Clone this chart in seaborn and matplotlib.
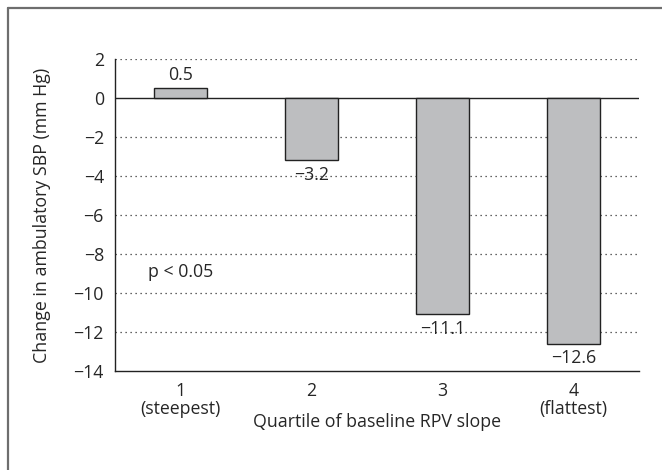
import matplotlib
matplotlib.use('Agg')
import matplotlib.pyplot as plt
from matplotlib.lines import Line2D
import seaborn as sns
import pandas as pd

# data
quartiles = ['1\n(steepest)', '2', '3', '4\n(flattest)']
change_sbp = [0.5, -3.2, -11.1, -12.6]
value_labels = ['0.5', '\u22123.2', '\u221211.1', '\u221212.6']
y_ticks = [2, 0, -2, -4, -6, -8, -10, -12, -14]

df = pd.DataFrame({'quartile': quartiles, 'change': change_sbp})

sns.set_style('white')
plt.rcParams['font.family'] = ['Open Sans', 'DejaVu Sans']
fs = 12.8
plt.rcParams['font.size'] = fs

fig = plt.figure(figsize=(6.62, 4.70), dpi=100)
ax = fig.add_axes([115/662, 1-371/470, (639-115)/662, (371-59)/470])

sns.barplot(data=df, x='quartile', y='change', color='#bdbec0', width=0.4,
            edgecolor='#222222', linewidth=1.0, saturation=1, ax=ax, zorder=3)

ax.set_xlim(-0.5, 3.5)
ax.set_ylim(-14, 2)
ax.set_yticks(y_ticks)

# dotted grid + solid zero line
for y in y_ticks:
    if y == 0:
        ax.axhline(0, color='#222222', lw=1.0, zorder=2)
    elif y != -14:
        ax.axhline(y, color='#333333', lw=0.9, ls=(0, (1, 3)), zorder=1)

for i, (v, lab) in enumerate(zip(change_sbp, value_labels)):
    if v >= 0:
        ax.annotate(lab, (i, v), xytext=(0, 3), textcoords='offset points',
                    ha='center', va='bottom', fontsize=fs)
    else:
        ax.annotate(lab, (i, v), xytext=(0, -4), textcoords='offset points',
                    ha='center', va='top', fontsize=fs)

ax.text(0, -8.9, 'p < 0.05', ha='center', va='center', fontsize=fs)

for s in ['top', 'right']:
    ax.spines[s].set_visible(False)
ax.spines['left'].set_color('#222222')
ax.spines['bottom'].set_color('#222222')
ax.spines['left'].set_linewidth(1.0)
ax.spines['bottom'].set_linewidth(1.0)

ax.tick_params(axis='y', direction='out', length=5, width=1.0, color='#222222', pad=3)
ax.tick_params(axis='x', which='major', length=0, pad=8)
for t in ax.get_xticklabels():
    t.set_linespacing(1.0)
ax.set_xticks([-0.5, 0.5, 1.5, 2.5, 3.5], minor=True)
ax.tick_params(axis='x', which='minor', direction='out', length=6, width=1.0, color='#222222')

ax.set_xlabel('Quartile of baseline RPV slope', fontsize=fs)
ax.xaxis.label.set_va('center')
ax.xaxis.set_label_coords(0.5, -0.163)
ax.set_ylabel('Change in ambulatory SBP (mm Hg)', fontsize=fs)
ax.yaxis.label.set_va('center')
ax.yaxis.set_label_coords(-0.139, 0.5)

# frame around the figure (open at right and bottom)
fig.add_artist(Line2D([8/662, 8/662], [0, 1-8/470], transform=fig.transFigure,
                      color='#6e6e6e', lw=1.6))
fig.add_artist(Line2D([8/662, 1], [1-8/470, 1-8/470], transform=fig.transFigure,
                      color='#6e6e6e', lw=1.6))

fig.savefig('out.png', dpi=100)
